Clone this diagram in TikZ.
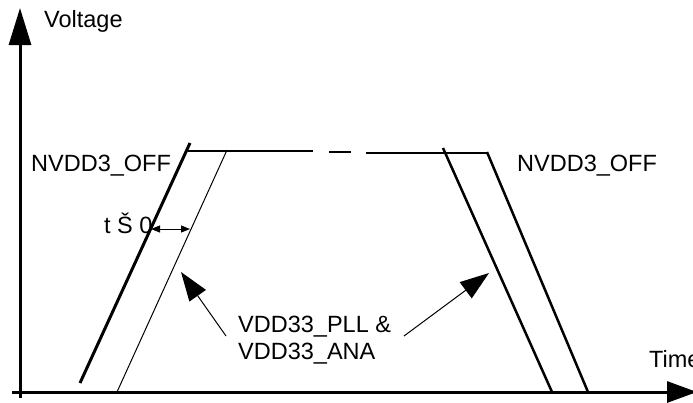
\documentclass[tikz,border=0pt]{standalone}
\usepackage{fontspec}
\setmainfont{Liberation Sans}
\usetikzlibrary{arrows.meta}
\begin{document}
\begin{tikzpicture}[x=1pt,y=-1pt,
  lbl/.style={inner sep=0pt, anchor=base west, font=\fontsize{23.5}{27}\selectfont},
  axisline/.style={line width=3pt},
  edgeA/.style={line width=3pt},
  edgeB/.style={line width=2.5pt},
  thinline/.style={line width=1pt},
  bigtip/.style={-{Triangle[length=29pt,width=20pt]}},
  smalltips/.style={{Triangle[length=9pt,width=7pt]}-{Triangle[length=9pt,width=7pt]}}
]
\useasboundingbox (0,0) rectangle (693,402);
% axes
\coordinate (yb) at (20,398);
\coordinate (yt) at (20,8);
\coordinate (xl) at (12,392);
\coordinate (xr) at (697,392);
\draw[axisline,-{Triangle[length=37pt,width=22pt]}] (yb) -- (yt);
\draw[axisline,-{Triangle[length=30pt,width=21pt]}] (xl) -- (xr);
\node[lbl] (volt) at (44,27) {Voltage};
\node[lbl] (time) at (649,367) {Time};
% rising edges
\coordinate (r1b) at (80,383);
\coordinate (r1t) at (190,143);
\coordinate (r2b) at (117,392);
\coordinate (r2t) at (227,150);
\draw[edgeA] (r1b) -- (r1t);
\draw[thinline] (r2b) -- (r2t);
% top level
\coordinate (h1) at (188,151);
\coordinate (h2) at (313,151);
\coordinate (h3) at (329,152);
\coordinate (h4) at (351,152);
\coordinate (h5) at (366,153);
\coordinate (h6) at (487,153);
\draw[edgeB] (h1) -- (h2);
\draw[edgeB] (h3) -- (h4);
\draw[edgeB] (h5) -- (h6);
% falling edges
\coordinate (f1t) at (443,148);
\coordinate (f1b) at (552,392);
\coordinate (f2t) at (487,152);
\coordinate (f2b) at (588,392);
\draw[edgeB] (f1t) -- (f1b);
\draw[edgeB] (f2t) -- (f2b);
% labels
\node[lbl] (offl) at (31,171) {NVDD3\_OFF};
\node[lbl] (offr) at (517,171) {NVDD3\_OFF};
\node[lbl] (tge) at (104,233) {t Š 0};
\coordinate (da) at (151,229);
\coordinate (db) at (190,229);
\draw[thinline,smalltips] (da) -- (db);
\node[lbl] (pll) at (238,332) {VDD33\_PLL \&};
\node[lbl] (ana) at (238,359) {VDD33\_ANA};
\coordinate (a1s) at (226,336);
\coordinate (a1e) at (181,272);
\coordinate (a2s) at (404,336);
\coordinate (a2e) at (489,273);
\draw[thinline,bigtip] (a1s) -- (a1e);
\draw[thinline,bigtip] (a2s) -- (a2e);
\end{tikzpicture}
\end{document}
